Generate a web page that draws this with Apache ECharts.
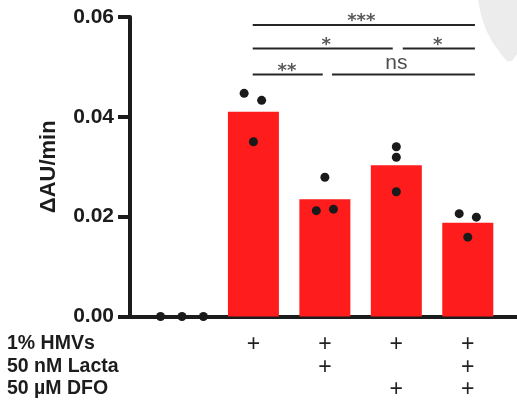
<!DOCTYPE html>
<html><head><meta charset="utf-8">
<script src="https://cdn.jsdelivr.net/npm/echarts@6/dist/echarts.min.js"></script>
<style>html,body{margin:0;padding:0;background:#fff}#c{width:517px;height:402px}</style>
</head><body><div id="c"></div>
<script>
// ---- data ----
const groups = ['Control', 'HMVs', 'HMVs+Lacta', 'HMVs+DFO', 'HMVs+Lacta+DFO'];
const barMeans = [0, 0.0410, 0.0235, 0.0303, 0.0188];
const pointGroup = [0, 0, 0, 1, 1, 1, 2, 2, 2, 3, 3, 3, 4, 4, 4];
const pointJitter = [-0.3, 0, 0.3, -0.13, 0.115, 0, 0, -0.12, 0.12, 0, 0, 0, -0.12, 0.12, 0];
const pointValues = [0, 0, 0, 0.0447, 0.0433, 0.0350, 0.0279, 0.0212, 0.0215, 0.0340, 0.0319, 0.0250, 0.0206, 0.0199, 0.0159];
const rowLabels = ['1% HMVs', '50 nM Lacta', '50 µM DFO'];
const hmvs = [0, 1, 1, 1, 1];
const lacta = [0, 0, 1, 0, 1];
const dfo = [0, 0, 0, 1, 1];
const bracketFrom = [0.99, 0.99, 3.09, 0.99, 2.10];
const bracketTo = [4.10, 2.95, 4.10, 1.97, 4.10];
const bracketLevel = [0.0584, 0.0537, 0.0537, 0.0485, 0.0485];
const bracketText = ['***', '*', '*', '**', 'ns'];
const bracketTextX = [2.51, 2.02, 3.58, 1.47, 3.0];

// ---- chart ----
const FONT = '"Liberation Sans", Arial, sans-serif';
const INK = '#1c1c1c';
const chart = echarts.init(document.getElementById('c'), null, {renderer: 'canvas'});

const series = [];
series.push({
  type: 'bar', xAxisIndex: 1, yAxisIndex: 1, data: barMeans, barWidth: 51,
  itemStyle: {color: '#fe1c1c'}, z: 2
});
series.push({
  type: 'scatter', xAxisIndex: 2, yAxisIndex: 1,
  data: pointGroup.map((g, i) => [g + pointJitter[i], pointValues[i]]),
  symbolSize: 9, itemStyle: {color: '#1a1a1a', opacity: 1}, z: 3
});
bracketText.forEach((t, i) => {
  series.push({
    type: 'line', xAxisIndex: 2, yAxisIndex: 1, symbol: 'none',
    data: [[bracketFrom[i], bracketLevel[i]], [bracketTo[i], bracketLevel[i]]],
    lineStyle: {color: '#262626', width: 2}, z: 4, silent: true
  });
});
series.push({
  type: 'scatter', xAxisIndex: 2, yAxisIndex: 1, symbolSize: 1,
  itemStyle: {color: 'rgba(0,0,0,0)'}, z: 5, silent: true,
  data: bracketText.map((t, i) => ({
    value: [bracketTextX[i], bracketLevel[i]],
    label: t === 'ns'
      ? {show: true, position: 'inside', formatter: t, offset: [0, -11.5], fontSize: 21, fontFamily: FONT, color: '#222'}
      : {show: true, position: 'inside', formatter: t, offset: [0, -3.5], fontSize: 18, fontWeight: 'bold', fontFamily: '"DejaVu Sans", sans-serif', color: '#2e2e2e'}
  }))
});

chart.setOption({
  animation: false,
  backgroundColor: '#fff',
  grid: [
    {left: 130, right: 0, top: 17, bottom: 85.5},
    {left: 146.25, right: 13.5, top: 17, bottom: 85.5}
  ],
  xAxis: [
    {gridIndex: 0, type: 'value', min: 0, max: 1,
     axisLine: {show: true, lineStyle: {color: INK, width: 4}},
     axisTick: {show: false}, axisLabel: {show: false}, splitLine: {show: false}},
    {gridIndex: 1, type: 'category', data: groups,
     axisLine: {show: false}, axisTick: {show: false}, splitLine: {show: false},
     axisLabel: {
       interval: 0, margin: 17.25, lineHeight: 22.5, fontSize: 23, fontFamily: FONT, color: '#222',
       formatter: (v, idx) => [hmvs[idx], lacta[idx], dfo[idx]].map(f => f ? '+' : ' ').join('\n')
     }},
    {gridIndex: 1, type: 'value', min: -0.5, max: 4.5, show: false}
  ],
  yAxis: [
    {gridIndex: 0, type: 'value', min: 0, max: 0.06, interval: 0.02,
     axisLine: {show: true, lineStyle: {color: INK, width: 4}},
     axisTick: {show: true, length: 12, lineStyle: {color: INK, width: 4}},
     axisLabel: {formatter: v => v.toFixed(2), fontSize: 21, fontWeight: 'bold', fontFamily: FONT, color: INK, margin: 16},
     splitLine: {show: false},
     name: 'ΔAU/min', nameLocation: 'middle', nameGap: 70,
     nameTextStyle: {fontSize: 22, fontWeight: 'bold', fontFamily: FONT, color: INK}},
    {gridIndex: 1, type: 'value', min: 0, max: 0.06, show: false}
  ],
  graphic: [
    {type: 'polygon', z: -10, silent: true,
     shape: {points: [[478, 0], [481, 15], [486, 30], [493, 43], [501, 54], [507, 61], [512, 61], [517, 54], [517, 0]]},
     style: {fill: '#ececec'}},
    {type: 'text', left: 7, top: 332.5, silent: true,
     style: {text: rowLabels.join('\n'), fontSize: 19.5, fontWeight: 'bold', fontFamily: FONT, lineHeight: 22.5, fill: INK}}
  ],
  series: series
});
</script>
</body></html>
